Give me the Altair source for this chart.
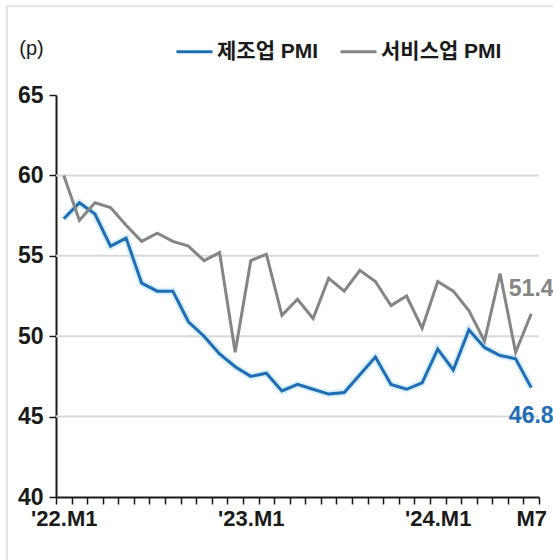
import altair as alt
import pandas as pd

# Monthly PMI readings, Jan 2022 - Jul 2024
months = [f"{y}-{m:02d}" for y in (2022, 2023) for m in range(1, 13)] + \
         [f"2024-{m:02d}" for m in range(1, 8)]

manufacturing = [57.3, 58.3, 57.6, 55.6, 56.1, 53.3, 52.8, 52.8, 50.9, 50.0,
                 48.9, 48.1, 47.5, 47.7, 46.6, 47.0, 46.7, 46.4, 46.5, 47.6,
                 48.7, 47.0, 46.7, 47.1, 49.2, 47.9, 50.4, 49.3, 48.8, 48.6,
                 46.8]
services = [60.0, 57.2, 58.3, 58.0, 56.9, 55.9, 56.4, 55.9, 55.6, 54.7,
            55.2, 49.0, 54.7, 55.1, 51.3, 52.3, 51.1, 53.6, 52.8, 54.1,
            53.4, 51.9, 52.5, 50.5, 53.4, 52.8, 51.6, 49.7, 53.9, 49.0,
            51.4]

series_names = ["제조업 PMI", "서비스업 PMI"]
series_colors = ["#1f6db3", "#858585"]

tick_labels = {"2022-01": "'22.M1", "2023-01": "'23.M1",
               "2024-01": "'24.M1", "2024-07": "M7"}
y_ticks = [40, 45, 50, 55, 60, 65]
grid_values = [45, 50, 55, 60]

df = pd.DataFrame({
    "month": months * 2,
    "series": [series_names[0]] * len(months) + [series_names[1]] * len(months),
    "value": manufacturing + services,
})
grid_df = pd.DataFrame({"y": grid_values})

FONT = "Liberation Sans Narrow, Liberation Sans, Noto Sans CJK KR, sans-serif"
label_expr = " : ".join(
    [f"datum.value == '{k}' ? \"{v}\"" for k, v in tick_labels.items()] + ["''"]
)

x_enc = alt.X(
    "month:O", sort=None,
    scale=alt.Scale(type="band", paddingInner=0, paddingOuter=0),
    axis=alt.Axis(
        title=None, labelExpr=label_expr, labelAngle=0, tickBand="extent",
        tickSize=7, tickWidth=1.5, tickColor="#1a1a1a",
        domainColor="#1a1a1a", domainWidth=2, grid=False,
        labelFont=FONT, labelFontSize=22, labelFontWeight="bold",
        labelColor="#1a1a1a", labelPadding=4, labelOverlap=False,
    ),
)
y_scale = alt.Scale(domain=[40, 65], nice=False, zero=False)

grid = alt.Chart(grid_df).mark_rule(color="#d9d9d9", strokeWidth=2).encode(
    y=alt.Y("y:Q", scale=y_scale)
)

halo = alt.Chart(df).transform_filter(
    alt.datum.series == series_names[0]
).mark_line(color="#bde4f7", strokeWidth=7, opacity=0.6).encode(
    x=x_enc, y=alt.Y("value:Q", scale=y_scale)
)

lines = alt.Chart(df).mark_line(strokeWidth=3).encode(
    x=x_enc,
    y=alt.Y(
        "value:Q", scale=y_scale,
        axis=alt.Axis(
            values=y_ticks, title="(p)", titleAngle=0, titleX=-25, titleY=-47,
            titleAlign="center", titleBaseline="middle", titleFont=FONT,
            titleFontSize=20, titleFontWeight="normal", titleColor="#1a1a1a",
            tickSize=7, tickWidth=1.5, tickColor="#1a1a1a",
            domainColor="#1a1a1a", domainWidth=2, grid=False,
            labelFont=FONT, labelFontSize=23, labelFontWeight="bold",
            labelColor="#1a1a1a", labelPadding=6,
        ),
    ),
    color=alt.Color(
        "series:N",
        scale=alt.Scale(domain=series_names, range=series_colors),
        legend=alt.Legend(
            title=None, orient="none", direction="horizontal",
            legendX=119, legendY=-63, symbolType="stroke",
            symbolSize=1296, symbolStrokeWidth=3, labelOffset=3,
            columnPadding=15, labelFont=FONT, labelFontSize=21,
            labelFontWeight="bold", labelColor="#1a1a1a", labelLimit=0,
            padding=0,
        ),
    ),
    order=alt.Order("month:O"),
)

last = months[-1]
end_mfg = alt.Chart(df).transform_filter(
    (alt.datum.month == last) & (alt.datum.series == series_names[0])
).mark_text(
    font=FONT, fontSize=23, fontWeight="bold", color=series_colors[0],
    dy=28, align="center", baseline="middle",
).encode(x=x_enc, y=alt.Y("value:Q", scale=y_scale),
         text=alt.Text("value:Q", format=".1f"))

end_svc = alt.Chart(df).transform_filter(
    (alt.datum.month == last) & (alt.datum.series == series_names[1])
).mark_text(
    font=FONT, fontSize=23, fontWeight="bold", color=series_colors[1],
    dy=-25, align="center", baseline="middle",
).encode(x=x_enc, y=alt.Y("value:Q", scale=y_scale),
         text=alt.Text("value:Q", format=".1f"))

frame = alt.Chart(grid_df).mark_rect(
    fill=None, stroke="#e6e6e6", strokeWidth=1.5
).encode(
    x=alt.value(-49), x2=alt.value(510), y=alt.value(-89), y2=alt.value(480)
)

chart = alt.layer(frame, grid, halo, lines, end_mfg, end_svc).properties(
    width=483, height=402,
    padding={"left": 56, "top": 95, "right": 14, "bottom": 63},
    autosize=alt.AutoSizeParams(type="none"),
    background="white",
).configure_view(stroke=None)

chart.save("out.html", embed_options={"renderer": "svg", "actions": False})
